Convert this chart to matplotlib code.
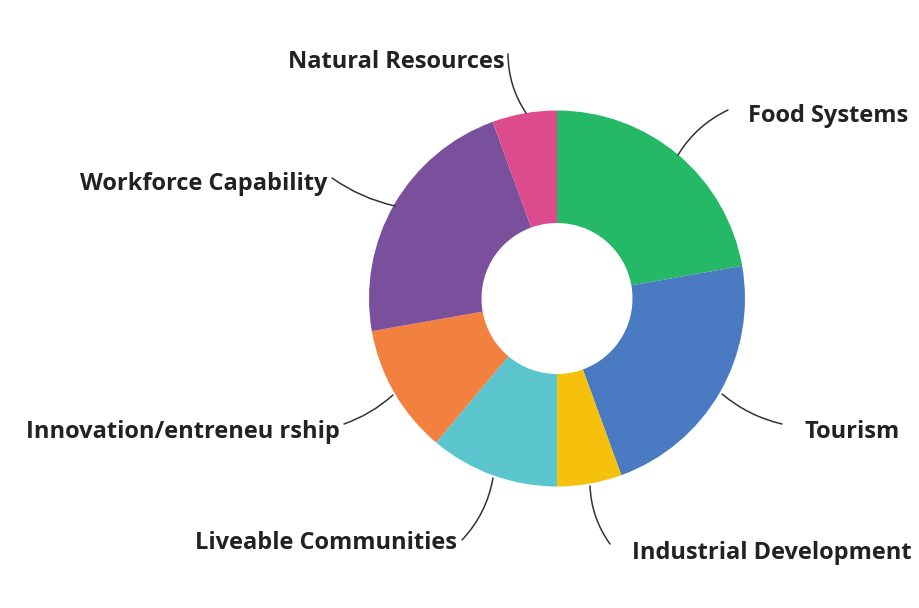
import matplotlib
matplotlib.use("Agg")
import matplotlib.pyplot as plt

# Programme focus areas, clockwise from the top
categories = ["Food Systems", "Tourism", "Industrial Development",
              "Liveable Communities", "Innovation/entreneu rship",
              "Workforce Capability", "Natural Resources"]
values = [4, 4, 1, 2, 2, 4, 1]
colors = ["#25b866", "#4a7bc2", "#f6c10c", "#5ac5cc", "#f2803f",
          "#7a4f9c", "#dc4b8c"]

W, H = 920, 608
fig = plt.figure(figsize=(W / 100, H / 100), dpi=100)
ax = fig.add_axes([0, 0, 1, 1])

def P(x, y):
    # pixel-style coordinates (origin top-left) -> axes data coords
    return (x, H - y)

cx, cy = P(557, 298.5)
ax.pie(values, colors=colors, startangle=90, counterclock=False,
       center=(cx, cy), radius=188,
       wedgeprops=dict(width=112.5, linewidth=0))

ax.set_xlim(0, W)
ax.set_ylim(0, H)
ax.set_aspect("equal")
ax.axis("off")

font = dict(family="Open Sans", weight="bold", size=17, color="#222222")

# label text anchor, line start (at text), line end (at ring), curvature
labels = {
    "Food Systems":              ((748, 116, "left"),  (728, 110), (678, 155), 0.15),
    "Tourism":                   ((805, 432, "left"),  (782, 424), (722, 394), -0.12),
    "Industrial Development":    ((632, 553, "left"),  (610, 544), (590, 486), -0.15),
    "Liveable Communities":      ((457, 543, "right"), (462, 540), (493, 478), 0.15),
    "Innovation/entreneu rship": ((340, 432, "right"), (344, 424), (393, 395), 0.1),
    "Workforce Capability":      ((328, 184, "right"), (332, 178), (395, 206), 0.1),
    "Natural Resources":         ((505, 62, "right"),  (508, 54), (526, 113), 0.15),
}

for name in categories:
    (tx, ty, ha), (x0, y0), (x1, y1), rad = labels[name]
    ax.text(*P(tx, ty), name, ha=ha, va="center", **font)
    ax.annotate("", xy=P(x1, y1), xytext=P(x0, y0),
                arrowprops=dict(arrowstyle="-", color="#333333", lw=1.1,
                                connectionstyle=f"arc3,rad={rad}",
                                shrinkA=0, shrinkB=0))

fig.savefig("out.png", dpi=100, facecolor="white")
